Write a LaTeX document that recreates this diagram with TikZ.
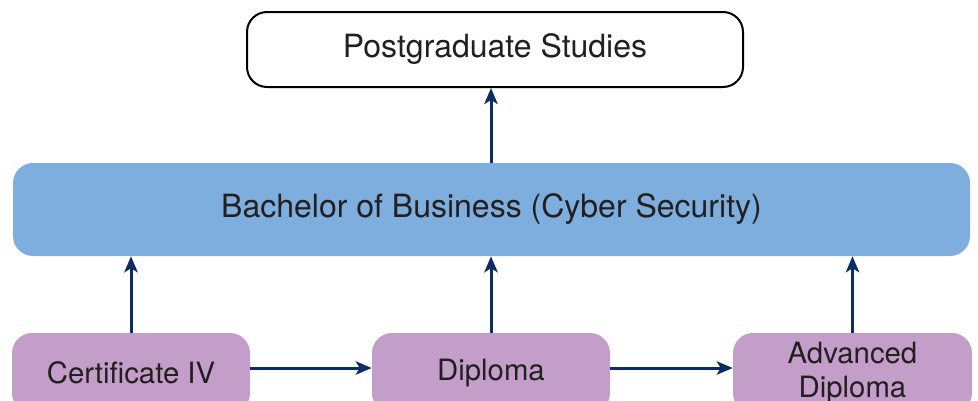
\documentclass[tikz,border=0pt]{standalone}
\usepackage{fontspec}
\setmainfont{TeX Gyre Heros}
\usetikzlibrary{arrows.meta}
\definecolor{bachblue}{HTML}{7EAEDD}
\definecolor{vetpurple}{HTML}{C39EC9}
\definecolor{navy}{HTML}{0B2D62}
\definecolor{txt}{HTML}{231F20}
\tikzset{
  box/.style={rounded corners=15pt, inner sep=0pt, align=center, text=txt, font=\fontsize{24}{28}\selectfont},
  pgbox/.style={box, draw=black, line width=1.5pt, fill=white},
  bachbox/.style={box, fill=bachblue},
  vetbox/.style={box, fill=vetpurple, font=\fontsize{22}{26}\selectfont, minimum height=60pt},
  conn/.style={draw=navy, line width=2.25pt, -{Stealth[length=12pt,width=10pt,inset=3pt]}}
}
\begin{document}
\begin{tikzpicture}[x=0.75pt,y=-0.75pt]
\useasboundingbox (0,0) rectangle (978,400);
\node[pgbox, minimum width=372pt, minimum height=56.25pt] (pg) at (495,49.5) {\raisebox{-4pt}{Postgraduate Studies}};
\node[bachbox, minimum width=717.75pt, minimum height=69.75pt] (bach) at (491.5,209.5) {\raisebox{-4pt}{Bachelor of Business (Cyber Security)}};
\node[vetbox, minimum width=178.5pt] (cert) at (131,373) {Certificate IV};
\node[vetbox, minimum width=178.5pt] (dip) at (491,373) {Diploma};
\node[vetbox, minimum width=179.25pt] (adv) at (852.5,373) {Advanced\\Diploma};
\draw[conn] (cert.north) -- (cert.north |- bach.south);
\draw[conn] (dip.north) -- (dip.north |- bach.south);
\draw[conn] (adv.north) -- (adv.north |- bach.south);
\draw[conn] (bach.north -| dip.north) -- (pg.south -| dip.north);
\draw[conn] ([yshift=3.75pt]cert.east) -- ([yshift=3.75pt]dip.west);
\draw[conn] ([yshift=3.75pt]dip.east) -- ([yshift=3.75pt]adv.west);
\end{tikzpicture}
\end{document}
